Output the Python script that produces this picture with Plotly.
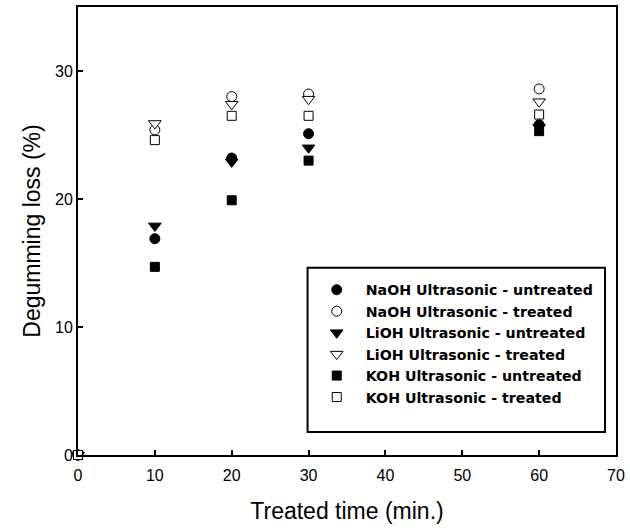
import plotly.graph_objects as go

times = [0, 10, 20, 30, 60]
series_names = [
    "NaOH Ultrasonic - untreated",
    "NaOH Ultrasonic - treated",
    "LiOH Ultrasonic - untreated",
    "LiOH Ultrasonic - treated",
    "KOH Ultrasonic - untreated",
    "KOH Ultrasonic - treated",
]
naoh_untreated = [0, 16.9, 23.2, 25.1, 25.8]
naoh_treated = [0, 25.4, 28.0, 28.2, 28.6]
lioh_untreated = [0, 17.9, 22.9, 24.0, 25.6]
lioh_treated = [0, 25.9, 27.4, 27.8, 27.6]
koh_untreated = [0, 14.7, 19.9, 23.0, 25.3]
koh_treated = [0, 24.6, 26.5, 26.5, 26.6]

values = [naoh_untreated, naoh_treated, lioh_untreated, lioh_treated, koh_untreated, koh_treated]
symbols = ["circle", "circle", "triangle-down", "triangle-down", "square", "square"]
filled = [True, False, True, False, True, False]
sizes = [10, 10, 11, 11, 9, 9]

FONT = "Arial, Liberation Sans, sans-serif"
LEGEND_FONT = "DejaVu Sans, sans-serif"

fig = go.Figure()
for name, vals, sym, fl, sz in zip(series_names, values, symbols, filled, sizes):
    fig.add_trace(go.Scatter(
        x=times, y=vals, mode="markers", name=name,
        marker=dict(symbol=sym, size=sz,
                    color="black" if fl else "white",
                    line=dict(color="black", width=1)),
        cliponaxis=False,
    ))

axis_common = dict(
    showline=True, linecolor="black", linewidth=2, mirror=True,
    ticks="inside", ticklen=5, tickwidth=1.5, tickcolor="black",
    showgrid=False, zeroline=False,
    tickfont=dict(family=FONT, size=16, color="black"),
)

# legend frame box (paper coordinates)
fig.add_shape(type="rect", xref="paper", yref="paper",
              x0=0.4267, x1=0.9796, y0=0.0511, y1=0.4178,
              line=dict(color="black", width=2), fillcolor="white", layer="above")

fig.update_layout(
    width=630, height=530,
    margin=dict(l=78, r=13, t=5, b=75),
    paper_bgcolor="white", plot_bgcolor="white",
    font=dict(family=FONT, color="black"),
    xaxis=dict(range=[0, 70], tickvals=[0, 10, 20, 30, 40, 50, 60, 70],
               ticklabelstandoff=5,
               title=dict(text="Treated time (min.)", font=dict(family=FONT, size=23), standoff=20),
               **axis_common),
    yaxis=dict(range=[0, 35], tickvals=[0, 10, 20, 30],
               title=dict(text="Degumming loss (%)", font=dict(family=FONT, size=23), standoff=8),
               **axis_common),
    showlegend=True,
    legend=dict(
        x=0.427, y=0.404, xanchor="left", yanchor="top",
        bgcolor="rgba(0,0,0,0)", borderwidth=0,
        font=dict(family=LEGEND_FONT, size=14.2, color="black", weight="bold"),
        tracegroupgap=0, itemsizing="trace", itemwidth=48,
    ),
)

fig.write_html("out.html")
